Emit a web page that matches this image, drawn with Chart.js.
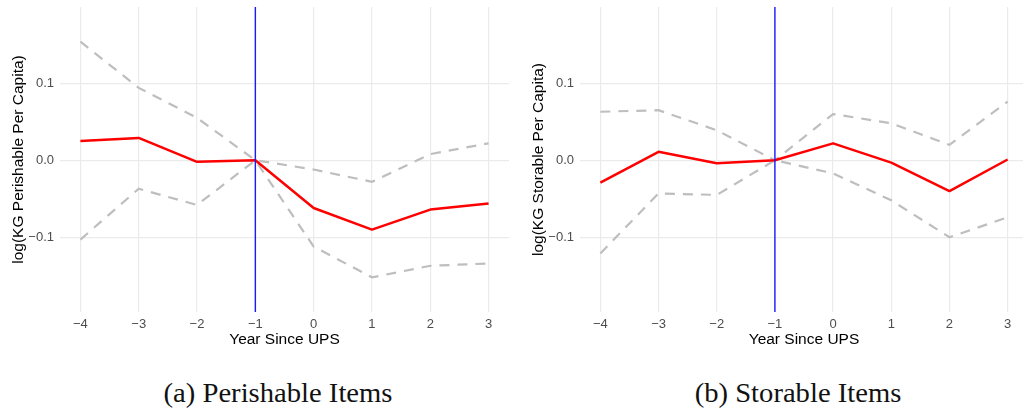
<!DOCTYPE html>
<html>
<head>
<meta charset="utf-8">
<script src="https://cdn.jsdelivr.net/npm/chart.js@4/dist/chart.umd.min.js"></script>
<style>
  html, body { margin: 0; padding: 0; background: #fff; width: 1023px; height: 414px; overflow: hidden; }
  .panel { position: absolute; top: 0; }
  #panelA { left: 0; }
  #panelB { left: 520px; }
  .caption {
    position: absolute; top: 380px; white-space: nowrap;
    font-family: "Liberation Serif", "Times New Roman", serif; font-size: 27px; line-height: 27px;
    color: #111; transform-origin: center top;
  }
  #capA { left: 278px; transform: translateX(-50%) scaleX(1.06); }
  #capB { left: 798px; transform: translateX(-50%) scaleX(1.06); }
</style>
</head>
<body>
<div class="panel" id="panelA"><canvas id="chartA" width="509" height="360" style="width:509px;height:360px"></canvas></div>
<div class="panel" id="panelB"><canvas id="chartB" width="508" height="360" style="width:508px;height:360px"></canvas></div>
<div class="caption" id="capA">(a) Perishable Items</div>
<div class="caption" id="capB">(b) Storable Items</div>

<script>
// Event-time axis (years relative to UPS) and its tick labels
const years = [-4, -3, -2, -1, 0, 1, 2, 3];
const xTicks = [-4, -3, -2, -1, 0, 1, 2, 3];
const yTicks = [-0.1, 0.0, 0.1];
const eventYear = -1;

// Perishable items: point estimates and confidence bounds
const perishEst   = [0.025, 0.029, -0.002, 0, -0.062, -0.090, -0.064, -0.056];
const perishUpper = [0.154, 0.094, 0.055, 0, -0.012, -0.028, 0.008, 0.022];
const perishLower = [-0.103, -0.037, -0.058, 0, -0.112, -0.152, -0.137, -0.134];

// Storable items: point estimates and confidence bounds
const storEst   = [-0.029, 0.011, -0.004, 0, 0.022, -0.003, -0.040, 0.001];
const storUpper = [0.063, 0.065, 0.039, 0, 0.060, 0.048, 0.020, 0.076];
const storLower = [-0.121, -0.043, -0.045, 0, -0.017, -0.052, -0.100, -0.074];

// Axis limits
const xMin = -4.35, xMax = 3.35;
const yMin = -0.197, yMax = 0.199;

Chart.defaults.font.family = "'Liberation Sans', Arial, Helvetica, sans-serif";

const minus = s => String(s).replace('-', '\u2212');
const pts = vals => years.map((x, i) => ({ x: x, y: vals[i] }));

function eventStudy(canvasId, yTitle, est, upper, lower) {
  return new Chart(document.getElementById(canvasId), {
    type: 'line',
    data: {
      datasets: [
        { data: [{ x: eventYear, y: yMin }, { x: eventYear, y: yMax }],
          borderColor: '#1a1aff', borderWidth: 1.4, order: 0 },
        { data: pts(est), borderColor: '#ff0000', borderWidth: 2.5, order: 1,
          borderJoinStyle: 'round' },
        { data: pts(upper), borderColor: '#bebebe', borderWidth: 2.2, borderDash: [10, 8],
          borderCapStyle: 'butt', order: 2 },
        { data: pts(lower), borderColor: '#bebebe', borderWidth: 2.2, borderDash: [10, 8],
          borderCapStyle: 'butt', order: 3 }
      ]
    },
    options: {
      responsive: false,
      devicePixelRatio: 1,
      animation: false,
      events: [],
      elements: { point: { radius: 0 }, line: { tension: 0 } },
      layout: { padding: 0 },
      plugins: { legend: { display: false }, tooltip: { enabled: false } },
      scales: {
        x: {
          type: 'linear', min: xMin, max: xMax,
          afterBuildTicks: a => { a.ticks = xTicks.map(v => ({ value: v })); },
          afterFit: a => { a.height = 48; a.paddingLeft = 0; a.paddingRight = 0; },
          grid: { color: '#ebebeb', lineWidth: 1.2, drawTicks: false },
          border: { display: false },
          ticks: { color: '#4d4d4d', font: { size: 13 }, padding: 4.5,
                    maxRotation: 0, autoSkip: false, callback: v => minus(v) },
          title: { display: true, text: 'Year Since UPS', color: '#000',
                   font: { size: 15.5 }, padding: { top: 0, bottom: 11 } }
        },
        y: {
          type: 'linear', min: yMin, max: yMax,
          afterBuildTicks: a => { a.ticks = yTicks.map(v => ({ value: v })); },
          afterFit: a => { a.width = 60; a.paddingTop = 7; a.paddingBottom = 0; },
          grid: { color: '#ebebeb', lineWidth: 1.2, drawTicks: false },
          border: { display: false },
          ticks: { color: '#4d4d4d', font: { size: 13 }, padding: 6,
                   callback: v => minus(v.toFixed(1)) },
          title: { display: true, text: yTitle, color: '#000',
                   font: { size: 15.5 }, padding: { top: 9, bottom: 0 } }
        }
      }
    }
  });
}

eventStudy('chartA', 'log(KG Perishable Per Capita)', perishEst, perishUpper, perishLower);
eventStudy('chartB', 'log(KG Storable Per Capita)', storEst, storUpper, storLower);
</script>
</body>
</html>
